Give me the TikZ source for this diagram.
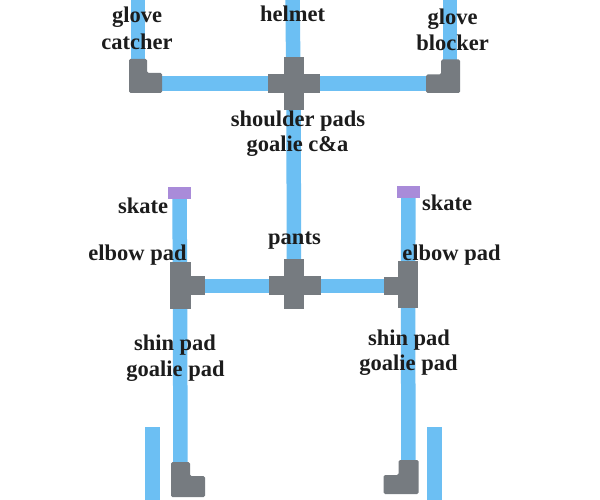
\documentclass[tikz,border=0pt]{standalone}
\usepackage{fontspec}
\setmainfont{Liberation Serif}
\definecolor{pipeblue}{HTML}{6CBFF3}
\definecolor{fitgray}{HTML}{767B80}
\definecolor{capviolet}{HTML}{A98BD9}
\definecolor{txt}{HTML}{1C1C1C}
\tikzset{
  pipe/.style={draw=pipeblue,line width=14.5pt,line cap=butt},
  fitting/.style={fill=fitgray,draw=none},
  capbox/.style={fill=capviolet,draw=none},
  lbl/.style={text=txt,font=\fontsize{22.5}{26}\selectfont\bfseries,anchor=base,inner sep=0pt}
}
\begin{document}
\begin{tikzpicture}[x=1pt,y=-1pt]
\useasboundingbox[fill=white] (0,0) rectangle (600,500);
% junction coordinates
\coordinate (gcTop) at (138,0);
\coordinate (helmTop) at (292.5,0);
\coordinate (gbTop) at (450,0);
\coordinate (elbTL) at (138,83.5);
\coordinate (shoulder) at (293.5,83.5);
\coordinate (elbTR) at (450,83.5);
\coordinate (pants) at (294,286);
\coordinate (teeL) at (180,286);
\coordinate (teeR) at (408,286);
\coordinate (skL) at (179.5,193);
\coordinate (skR) at (408.5,192);
\coordinate (elbBL) at (180.5,486.5);
\coordinate (elbBR) at (408.5,484.5);
\coordinate (outLa) at (152.5,427);
\coordinate (outLb) at (152.5,500);
\coordinate (outRa) at (434.5,427);
\coordinate (outRb) at (434.5,500);
% pipes
\draw[pipe] (gcTop) -- (elbTL);
\draw[pipe] (helmTop) -- (shoulder);
\draw[pipe] (gbTop) -- (elbTR);
\draw[pipe] (elbTL) -- (shoulder);
\draw[pipe] (shoulder) -- (elbTR);
\draw[pipe] (shoulder) -- (pants);
\draw[pipe] (teeL) -- (pants);
\draw[pipe] (pants) -- (teeR);
\draw[pipe] (skL) -- (teeL);
\draw[pipe] (skR) -- (teeR);
\draw[pipe] (teeL) -- (elbBL);
\draw[pipe] (teeR) -- (elbBR);
\draw[pipe] (outLa) -- (outLb);
\draw[pipe] (outRa) -- (outRb);
% fittings
\begin{scope}[shift={(elbTL)}]
\fill[fitting,rounded corners=1.5pt] (-9,-24.5) -- (9,-24.5) -- (9,-10.5) -- (24,-10.5) -- (24,9.5) -- (-9,9.5) -- cycle;
\end{scope}
\begin{scope}[shift={(elbTR)}]
\fill[fitting,rounded corners=1.5pt] (-9,-24) -- (10,-24) -- (10,9.5) -- (-24,9.5) -- (-24,-9) -- (-9,-9) -- cycle;
\end{scope}
\begin{scope}[shift={(shoulder)}]
\fill[fitting] (-26,-9.5) rectangle (26,9.5);
\fill[fitting] (-10,-26.5) rectangle (10,26.5);
\end{scope}
\begin{scope}[shift={(pants)}]
\fill[fitting] (-25.5,-10) rectangle (26.5,9);
\fill[fitting] (-10,-27) rectangle (10,23);
\end{scope}
\begin{scope}[shift={(teeL)}]
\fill[fitting] (-10,-24) rectangle (11,23);
\fill[fitting] (0,-10) rectangle (25,9);
\end{scope}
\begin{scope}[shift={(teeR)}]
\fill[fitting] (-10,-25) rectangle (10,22);
\fill[fitting] (-24,-9) rectangle (0,9);
\end{scope}
\begin{scope}[shift={(elbBL)}]
\fill[fitting,rounded corners=1.5pt] (-9.5,-24.5) -- (9.5,-24.5) -- (9.5,-10.5) -- (24.5,-10.5) -- (24.5,10.5) -- (-9.5,10.5) -- cycle;
\end{scope}
\begin{scope}[shift={(elbBR)}]
\fill[fitting,rounded corners=1.5pt] (-10,-24.5) -- (10,-24.5) -- (10,9.5) -- (-25,9.5) -- (-25,-9.5) -- (-10,-9.5) -- cycle;
\end{scope}
% skate caps
\fill[capviolet] ([shift={(-11.5,-6)}]skL) rectangle ([shift={(11.5,6)}]skL);
\fill[capviolet] ([shift={(-11.5,-6)}]skR) rectangle ([shift={(11.5,6)}]skR);
% labels
\node[lbl] (gloveL) at (137,23) {glove};
\node[lbl] (catcher) at (137,50) {catcher};
\node[lbl] (helmet) at (292.5,21.7) {helmet};
\node[lbl] (gloveR) at (452.5,25) {glove};
\node[lbl] (blocker) at (452.5,50.7) {blocker};
\node[lbl] (shpads) at (298,126.7) {shoulder pads};
\node[lbl] (gca) at (297.5,151.7) {goalie c\&a};
\node[lbl] (skateL) at (143,214) {skate};
\node[lbl] (skateR) at (447,210.7) {skate};
\node[lbl] (pantsL) at (294.5,244) {pants};
\node[lbl] (elbowL) at (137.5,260) {elbow pad};
\node[lbl] (elbowR) at (451.5,260) {elbow pad};
\node[lbl] (shinL) at (175,350.7) {shin pad};
\node[lbl] (gpL) at (175.5,376) {goalie pad};
\node[lbl] (shinR) at (409,345) {shin pad};
\node[lbl] (gpR) at (408.5,370) {goalie pad};
\end{tikzpicture}
\end{document}
